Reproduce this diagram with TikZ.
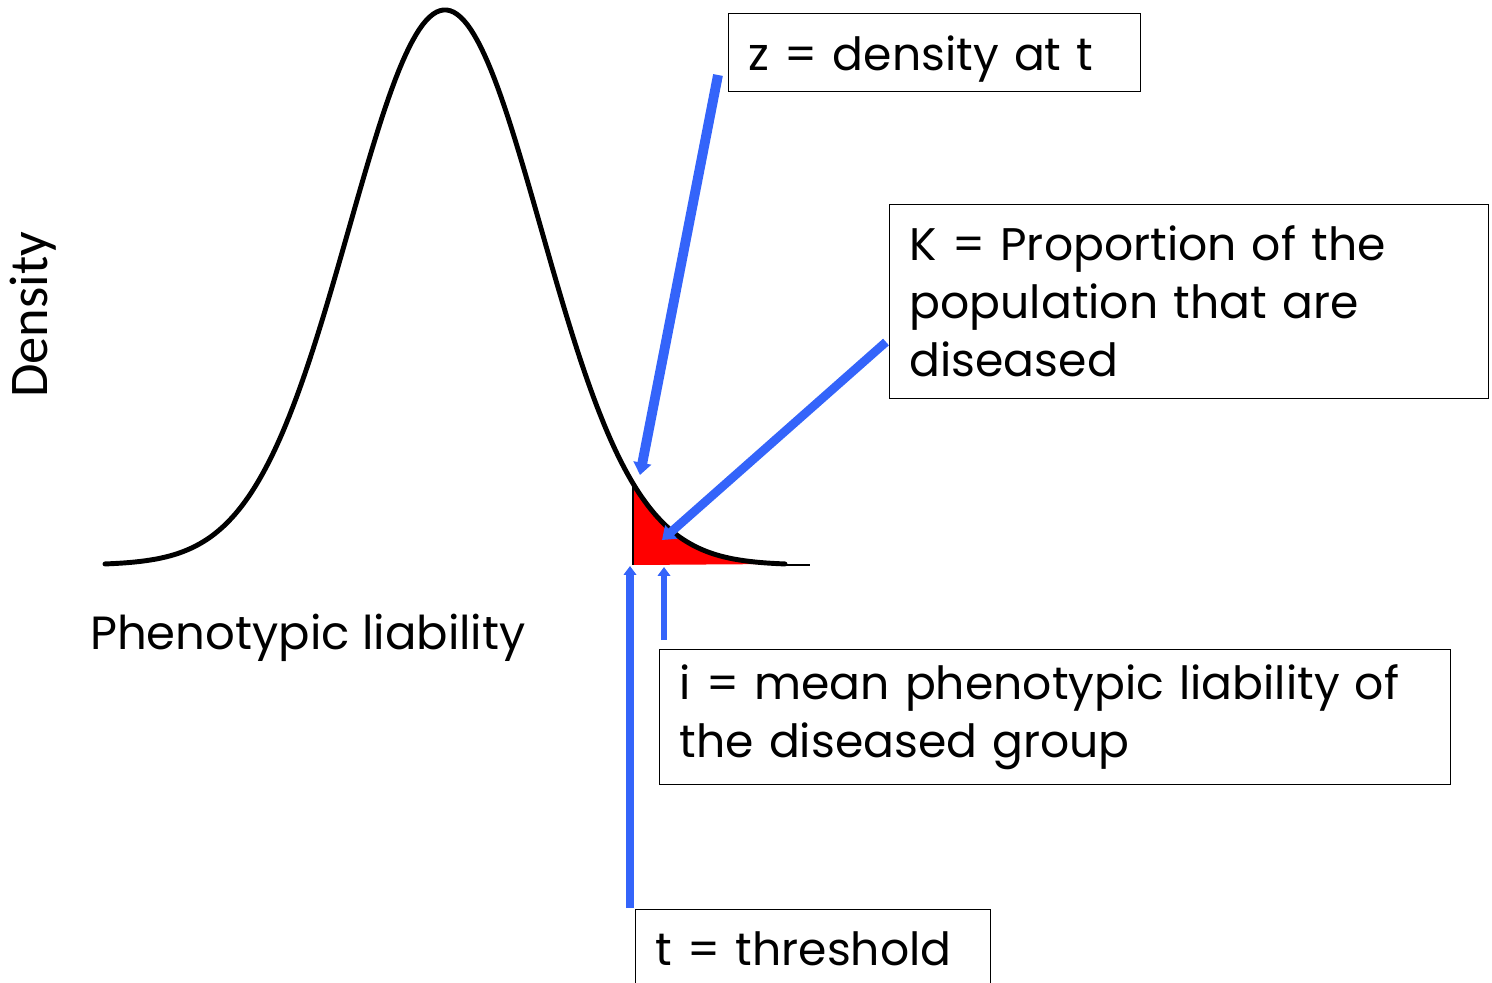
\documentclass[tikz,border=0pt]{standalone}
\usepackage{fontspec}
\setmainfont{Poppins}
\newfontfamily\denfont{Carlito}
\usetikzlibrary{arrows.meta,positioning}
\definecolor{arrblue}{RGB}{52,100,250}
\hyphenpenalty=10000
\tikzset{
  box/.style={draw, line width=0.8pt, anchor=north west, align=left, inner xsep=0.4cm, font=\fontsize{26}{33}\selectfont},
  barr/.style={arrblue, -{Triangle[length=7pt, width=10pt]}},
  sarr/.style={arrblue, -{Triangle[length=5pt, width=7pt]}},
  curve/.style={line width=2.8pt, line cap=round},
}
\begin{document}
\begin{tikzpicture}[x=0.02cm, y=-0.02cm]
\clip (0,0) rectangle (1492,983);
% liability curve with the diseased tail
\fill[red] (633,565) -- plot[domain=633:785, samples=60] (\x, {565-555*exp(-0.5*((\x-445)/96)^2)}) -- cycle;
\draw[curve] plot[domain=105:785, samples=200] (\x, {565-555*exp(-0.5*((\x-445)/96)^2)});
\draw[line width=1.2pt] (633,483) -- (633,565);
\draw[line width=0.8pt] (780,565) -- (810,565);
\node[font=\fontsize{26.5}{33}\selectfont, anchor=west] (xlab) at (84,638) {Phenotypic liability};
\node[font=\denfont\fontsize{31}{36}\selectfont, rotate=90] (ylab) at (33,315) {Density};
% label boxes
\node[box, text width=7.44cm, minimum height=1.56cm, text depth=0pt] (zbox) at (728,13) {z = density at t};
\node[box, text width=11.18cm, minimum height=3.88cm] (kbox) at (889,204) {K = Proportion of the\\population that are\\diseased};
\node[box, text width=15.02cm, minimum height=2.7cm] (ibox) at (659,649) {i = mean phenotypic liability of\\the diseased group};
\node[box, text width=6.3cm, minimum height=1.56cm, text depth=0pt] (tbox) at (635,909) {t = threshold};
% arrows
\coordinate (zfrom) at (718,75);  \coordinate (zto) at (640,475);
\coordinate (kfrom) at (886,342); \coordinate (kto) at (662,540);
\coordinate (tfrom) at (630,908); \coordinate (tto) at (630,566);
\coordinate (ifrom) at (664,640); \coordinate (ito) at (664,567);
\draw[barr, line width=5.6pt] (zfrom) -- (zto);
\draw[barr, line width=5pt] (kfrom) -- (kto);
\draw[sarr, line width=4.3pt] (tfrom) -- (tto);
\draw[sarr, line width=3.8pt] (ifrom) -- (ito);
\end{tikzpicture}
\end{document}
